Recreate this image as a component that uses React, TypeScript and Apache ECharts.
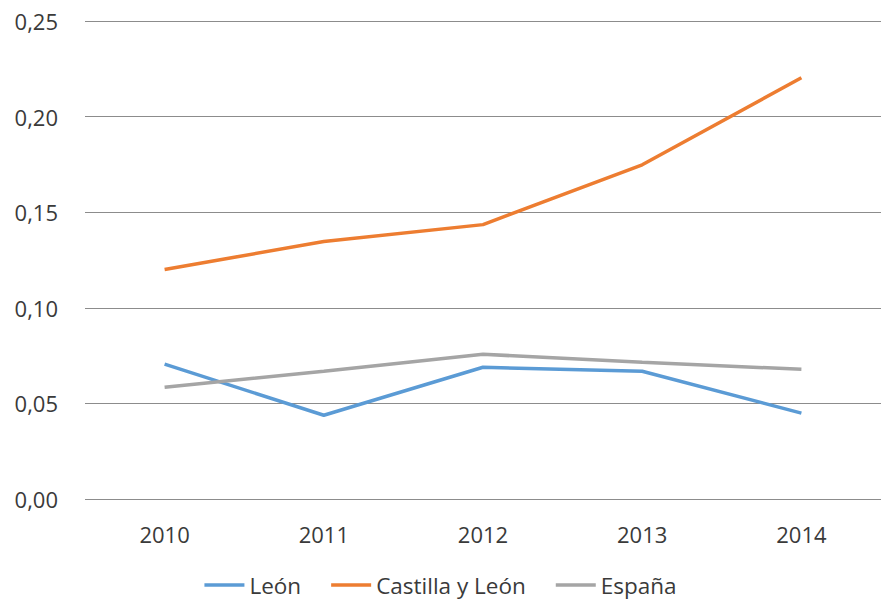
import React, { useEffect, useRef } from "react";
import * as echarts from "echarts";

const years = ["2010", "2011", "2012", "2013", "2014"];
const leon = [0.0705, 0.0438, 0.0689, 0.0668, 0.0449];
const castillaLeon = [0.12, 0.1347, 0.1435, 0.1748, 0.2203];
const espana = [0.0585, 0.0668, 0.0757, 0.0715, 0.0678];

const FONT = "'Open Sans', sans-serif";

export default function App() {
  const ref = useRef<HTMLDivElement>(null);
  useEffect(() => {
    document.body.style.overflow = "hidden";
    const chart = echarts.init(ref.current!, null, { renderer: "svg" });
    const lineSeries = (name: string, data: number[], color: string) => ({
      name,
      type: "line",
      data,
      symbol: "none",
      lineStyle: { color, width: 3.5 },
      itemStyle: { color },
    });
    chart.setOption({
      animation: false,
      backgroundColor: "#ffffff",
      grid: { left: 85, right: -12, top: 21, bottom: 104, containLabel: false },
      xAxis: {
        type: "category",
        data: years,
        boundaryGap: true,
        axisLine: { show: false },
        axisTick: { show: false },
        axisLabel: { color: "#3a3a3a", fontSize: 22, fontFamily: FONT, margin: 24 },
      },
      yAxis: {
        type: "value",
        min: 0,
        max: 0.25,
        interval: 0.05,
        axisLine: { show: false },
        axisTick: { show: false },
        splitLine: { lineStyle: { color: "#8c8c8c", width: 1.2 } },
        axisLabel: {
          color: "#3a3a3a",
          fontSize: 22,
          fontFamily: FONT,
          margin: 27,
          formatter: (v: number) => v.toFixed(2).replace(".", ","),
        },
      },
      legend: {
        top: 572,
        left: "center",
        padding: 0,
        icon: "rect",
        itemWidth: 40,
        itemHeight: 3.5,
        itemGap: 30,
        textStyle: { color: "#3a3a3a", fontSize: 22.5, lineHeight: 26, fontFamily: FONT },
        data: ["León", "Castilla y León", "España"],
      },
      series: [
        lineSeries("León", leon, "#5B9BD5"),
        lineSeries("Castilla y León", castillaLeon, "#ED7D31"),
        lineSeries("España", espana, "#A5A5A5"),
      ],
    });
    return () => chart.dispose();
  }, []);
  return (
    <div
      ref={ref}
      style={{ position: "fixed", left: 0, top: 0, width: 881, height: 603 }}
    />
  );
}
